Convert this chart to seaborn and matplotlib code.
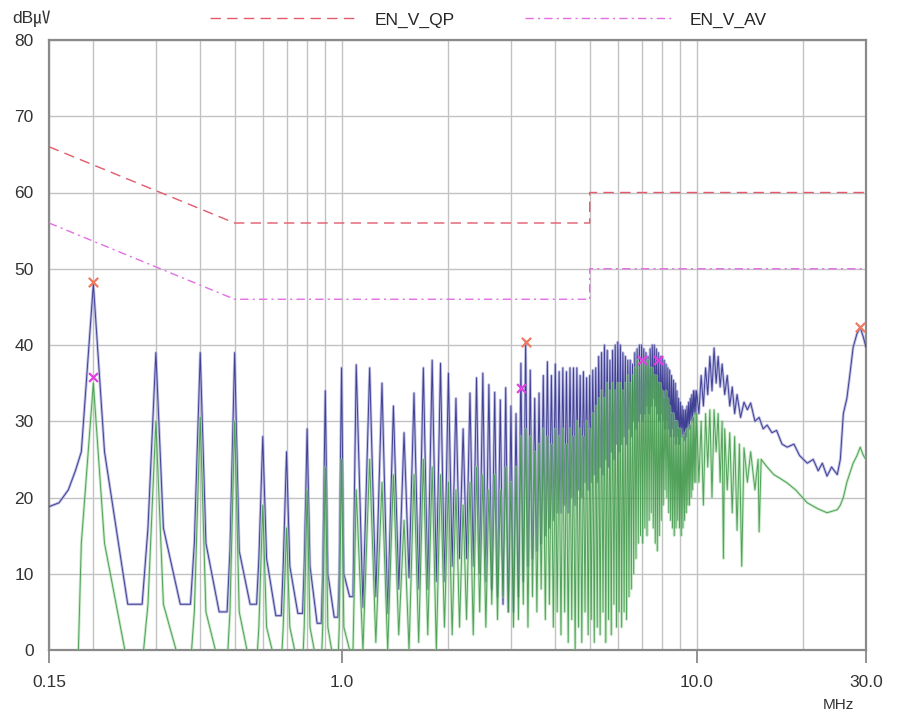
import numpy as np
import matplotlib
matplotlib.use("Agg")
import matplotlib.pyplot as plt
import seaborn as sns
from matplotlib.lines import Line2D

# -------------------
# 1. DATA
# -------------------
# limit lines
QP_LIMIT_MHZ = [0.15, 0.5, 5.0, 5.0, 30.0]
QP_LIMIT_DB = [66, 56, 56, 60, 60]
AV_LIMIT_MHZ = [0.15, 0.5, 5.0, 5.0, 30.0]
AV_LIMIT_DB = [56, 46, 46, 50, 50]

# switching harmonics 0.2 .. 9.9 MHz
HARM_MHZ = [0.2, 0.3, 0.4, 0.5, 0.6, 0.7, 0.8, 0.9, 1.0,
            1.1, 1.2, 1.3, 1.4, 1.5, 1.6, 1.7, 1.8, 1.9, 2.0,
            2.1, 2.2, 2.3, 2.4, 2.5, 2.6, 2.7, 2.8, 2.9, 3.0,
            3.1, 3.2, 3.3, 3.4, 3.5, 3.6, 3.7, 3.8, 3.9, 4.0,
            4.1, 4.2, 4.3, 4.4, 4.5, 4.6, 4.7, 4.8, 4.9, 5.0,
            5.1, 5.2, 5.3, 5.4, 5.5, 5.6, 5.7, 5.8, 5.9, 6.0,
            6.1, 6.2, 6.3, 6.4, 6.5, 6.6, 6.7, 6.8, 6.9, 7.0,
            7.1, 7.2, 7.3, 7.4, 7.5, 7.6, 7.7, 7.8, 7.9, 8.0,
            8.1, 8.2, 8.3, 8.4, 8.5, 8.6, 8.7, 8.8, 8.9, 9.0,
            9.1, 9.2, 9.3, 9.4, 9.5, 9.6, 9.7, 9.8, 9.9]

# QP trace (blue)
QP_LEAD_MHZ = [0.15, 0.16, 0.17, 0.178]
QP_LEAD_DB = [18.8, 19.3, 21.0, 23.5]
QP_FEET = [26, 16, 14, 13, 12, 11, 11, 10, 10]
QP_PEAK = [48, 39, 39, 39, 28, 26, 29, 34, 37,
           37.4, 37, 35, 32, 28.5, 33.7, 37, 38, 37.6, 36.3,
           33, 29, 33.7, 35.7, 36.3, 34.8, 33.8, 32.8, 34.4, 32,
           31, 37.6, 40.5, 36.7, 33, 33.7, 36, 37.8, 36, 37.5,
           36.5, 37, 36.5, 37, 37, 37, 36, 36.5, 35.7, 36,
           36.7, 37, 38.5, 39, 40, 39.3, 38, 39.3, 40, 40.4,
           40, 39, 38.5, 38, 38, 37.5, 39, 39.5, 40, 40,
           39.5, 39, 38.5, 39.5, 40, 40, 39.5, 39, 38.5, 38.5,
           38, 37.5, 37, 36.7, 36, 35.4, 35, 34, 33, 32.5,
           32, 31.5, 31.5, 32, 32.5, 33, 33.5, 34, 34]
QP_VALLEY = [6, 6, 5, 6, 4.5, 4.8, 3.5, 4.3, 7,
             5.6, 7, 4.8, 8, 9.5, 8, 8, 9, 9, 11,
             12, 12, 11, 10, 9, 8, 7, 6, 5, 5,
             7, 9, 11, 12, 13, 14, 15, 16, 17, 18,
             18, 19, 18, 20, 19, 21, 20, 22, 21, 22,
             23, 22, 24, 23, 25, 24, 26, 25, 27, 26,
             27, 28, 27, 29, 28, 30, 29, 30, 31, 30,
             31, 32, 31, 32, 33, 32, 31, 30, 31, 30,
             29, 30, 29, 28, 29, 28, 27, 28, 27, 28,
             28, 27.5, 28, 29, 29, 30, 30, 31, 31]
QP_TAIL_MHZ = [10.0, 10.15, 10.3, 10.45, 10.6, 10.75, 10.9, 11.05, 11.2, 11.35,
               11.5, 11.65, 11.8, 12.0, 12.2, 12.4, 12.6, 12.8, 13.0, 13.3,
               13.6, 13.9, 14.2, 14.6, 15.0, 15.4, 15.8, 16.3, 16.8, 17.4,
               18.0, 18.8, 19.5, 20.5, 21.3, 22.0, 22.6, 23.3, 24.0, 24.9,
               25.4, 25.9, 26.5, 27.0, 27.6, 28.3, 28.9, 29.5, 30.0]
QP_TAIL_DB = [34, 31, 36, 32, 37, 33.5, 38.5, 34, 39.6, 35,
              38.5, 34.5, 37.5, 33.5, 36, 32, 34.5, 31, 33.5, 30.5,
              32.5, 31.5, 32.4, 30, 30.5, 29, 29.5, 28.5, 28.8, 27,
              26.6, 27, 25.5, 24.5, 25, 23.5, 24.5, 22.8, 24, 23,
              25, 31, 33, 36, 39.7, 41.5, 42.3, 41, 39.7]

# AV trace (green)
AV_LEAD_MHZ = [0.15, 0.181]
AV_LEAD_DB = [-2, -2]
AV_FEET = [14, 6, 5, 5, 3, 3, 3, 3, 3]
AV_PEAK = [35, 30, 30.5, 30, 19, 16, 21, 24, 25,
           21, 25, 22, 23, 17, 23, 25, 24, 23, 22,
           21, 19, 22, 24, 23, 21, 23, 21, 24, 22,
           24, 28, 29, 28, 26, 27, 29, 28, 27, 29,
           28, 29, 27, 29, 28, 30, 29, 28, 30, 29,
           31, 32, 33, 34, 33, 35, 34, 35, 34, 35,
           35, 34, 35, 36, 35, 36, 37, 38, 37, 38,
           38, 37.5, 38, 37, 37, 36, 36, 35, 35, 34,
           33, 34, 33, 32, 31, 31, 30, 30, 29, 29,
           28, 28, 28.5, 29, 29, 29.5, 30, 30.5, 31]
AV_VALLEY = [-2, -2, -2, -2, -2, -2, -2, -2, 0,
             0, 1, 0, 2, 0, 1, 2, 0, 3, 2,
             3, 4, 2, 5, 3, 6, 4, 7, 5, 3,
             4, 6, 3, 7, 5, 8, 4, 6, 3, 5,
             2, 5, 1, 4, 0, 3, 1, 5, 2, 4,
             1, 3, 2, 5, 1, 4, 2, 6, 3, 5,
             3, 5, 4, 7, 8, 10, 12, 14, 15, 14,
             16, 15, 17, 18, 16, 14, 13, 15, 17, 19,
             21, 20, 18, 17, 16, 15, 16, 17, 16, 15,
             16, 17, 18, 19, 19, 20, 21, 22, 22]
AV_TAIL_MHZ = [10.0, 10.15, 10.3, 10.45, 10.6, 10.75, 10.9, 11.05, 11.2, 11.35,
               11.5, 11.65, 11.8, 11.9, 12.0, 12.2, 12.4, 12.6, 12.8, 13.0,
               13.2, 13.4, 13.6, 13.9, 14.2, 14.6, 14.9, 15.0, 15.2, 15.8,
               16.5, 17.2, 18.0, 19.0, 20.5, 22.0, 23.3, 24.9, 25.4, 25.9,
               26.5, 27.6, 28.3, 28.9, 29.5, 30.0]
AV_TAIL_DB = [31, 22, 30, 19, 31, 24, 31.5, 20, 31.5, 26,
              31, 22, 30, 12, 29, 21, 28.5, 18, 28, 15.7,
              27, 11, 26.5, 22, 26, 21, 25, 15.5, 25, 24,
              23, 22.5, 21.9, 21, 19.3, 18.5, 18, 18.4, 19, 20,
              22, 24.5, 25.5, 26.6, 25.5, 25]

# final measurement markers
QP_MARK_MHZ = [0.2, 3.3, 28.9]
QP_MARK_DB = [48.3, 40.4, 42.3]
AV_MARK_MHZ = [0.2, 3.2, 7.0, 7.8]
AV_MARK_DB = [35.8, 34.4, 38.0, 38.0]

FOOT_MHZ = 0.015   # half width of the spike foot for the low harmonics


def build_trace(lead_f, lead_db, feet, peaks, valleys, tail_f, tail_db):
    # foot -> peak -> foot -> flat valley for the low harmonics,
    # plain peak -> valley zig-zag once they get dense
    xs, ys = list(lead_f), list(lead_db)
    for i, f in enumerate(HARM_MHZ):
        nxt = HARM_MHZ[i + 1] if i + 1 < len(HARM_MHZ) else tail_f[0]
        lo, hi = np.log(f), np.log(nxt)
        if i < len(feet):
            xs += [f - FOOT_MHZ, f, f + FOOT_MHZ,
                   np.exp(lo + 0.55 * (hi - lo)), np.exp(lo + 0.78 * (hi - lo))]
            ys += [feet[i], peaks[i], feet[i], valleys[i], valleys[i]]
        else:
            xs += [f, np.exp(0.5 * (lo + hi))]
            ys += [peaks[i], valleys[i]]
    xs += list(tail_f)
    ys += list(tail_db)
    return np.array(xs), np.array(ys)


qp_f, qp_db = build_trace(QP_LEAD_MHZ, QP_LEAD_DB, QP_FEET, QP_PEAK, QP_VALLEY,
                          QP_TAIL_MHZ, QP_TAIL_DB)
av_f, av_db = build_trace(AV_LEAD_MHZ, AV_LEAD_DB, AV_FEET, AV_PEAK, AV_VALLEY,
                          AV_TAIL_MHZ, AV_TAIL_DB)

# -------------------
# 2. STYLE
# -------------------
sns.set_theme(style="white")
plt.rcParams['font.family'] = ['Liberation Sans', 'Noto Sans CJK KR']

QP_COLOR = '#e25a6c'
AV_COLOR = '#e36ee3'
BLUE = '#34348c'
BLUE_HALO = '#a9a9dc'
GREEN = '#2c8a38'
GREEN_HALO = '#9ad79a'
GRID = '#c2c2c2'
FS = 12.5

fig = plt.figure(figsize=(8.98, 7.16), dpi=100)
ax = fig.add_axes([49 / 898, 66 / 716, 817 / 898, 610 / 716])
ax.set_xscale('log')

# -------------------
# 3. TRACES
# -------------------
# wide pale stroke under a thin dark one, like the blurred scan
sns.lineplot(x=qp_f, y=qp_db, sort=False, estimator=None, ax=ax,
             color=BLUE_HALO, lw=2.0, alpha=0.75, zorder=2)
sns.lineplot(x=qp_f, y=qp_db, sort=False, estimator=None, ax=ax,
             color=BLUE, lw=0.7, alpha=0.9, zorder=3)
sns.lineplot(x=av_f, y=av_db, sort=False, estimator=None, ax=ax,
             color=GREEN_HALO, lw=2.0, alpha=0.55, zorder=4)
sns.lineplot(x=av_f, y=av_db, sort=False, estimator=None, ax=ax,
             color=GREEN, lw=0.7, alpha=0.75, zorder=5)

sns.lineplot(x=QP_LIMIT_MHZ, y=QP_LIMIT_DB, sort=False, estimator=None, ax=ax,
             color=QP_COLOR, lw=1.0, linestyle=(0, (7.5, 4.5)), zorder=6)
sns.lineplot(x=AV_LIMIT_MHZ, y=AV_LIMIT_DB, sort=False, estimator=None, ax=ax,
             color=AV_COLOR, lw=1.0, linestyle=(0, (6, 3, 1.5, 3)), zorder=6)

sns.scatterplot(x=QP_MARK_MHZ, y=QP_MARK_DB, ax=ax, marker='x', s=45,
                color='#f07a60', linewidth=1.6, zorder=7)
sns.scatterplot(x=AV_MARK_MHZ, y=AV_MARK_DB, ax=ax, marker='x', s=40,
                color='#e040e0', linewidth=1.6, zorder=7)

# -------------------
# 4. AXES
# -------------------
ax.set_xlim(0.15, 30)
ax.set_ylim(0, 80)
ax.set_xticks([0.15, 1, 10, 30])
ax.set_xticklabels(['0.15', '1.0', '10.0', '30.0'])
ax.set_xticks([0.2, 0.3, 0.4, 0.5, 0.6, 0.7, 0.8, 0.9,
               2, 3, 4, 5, 6, 7, 8, 9, 20], minor=True)
ax.set_xticklabels([], minor=True)
ax.set_yticks(range(0, 81, 10))
ax.grid(axis='x', which='both', color=GRID, lw=1.0, zorder=0)
ax.grid(axis='y', which='major', color=GRID, lw=1.0, zorder=0)
ax.set_axisbelow(True)
ax.tick_params(axis='x', which='major', bottom=True, length=9, width=1.2,
               color='#808080', direction='out', pad=9, labelsize=FS,
               labelcolor='#333333')
ax.tick_params(axis='x', which='minor', bottom=False, length=0)
ax.tick_params(axis='y', left=False, length=0, pad=11, labelsize=FS,
               labelcolor='#333333')
ax.set_xlabel('')
ax.set_ylabel('')
for sp in ax.spines.values():
    sp.set_color('#8a8a8a')
    sp.set_linewidth(1.6)

fig.text(12 / 898, 1 - 19 / 716, 'dB㎶', ha='left', va='center',
         fontsize=FS, color='#333333')
fig.text(838 / 898, 1 - 705 / 716, 'MHz', ha='center', va='center',
         fontsize=FS - 1.5, color='#333333')

handles = [Line2D([], [], color=QP_COLOR, lw=1.0, linestyle=(0, (7.5, 4.5))),
           Line2D([], [], color=AV_COLOR, lw=1.0, linestyle=(0, (6, 3, 1.5, 3)))]
fig.legend(handles, ['EN_V_QP', 'EN_V_AV'], loc='center left',
           bbox_to_anchor=(210 / 898, 1 - 20 / 716), ncol=2, frameon=False,
           fontsize=FS, handlelength=8.6, handletextpad=0.9,
           columnspacing=4.0, borderpad=0, borderaxespad=0)

fig.savefig('out.png', dpi=100)
